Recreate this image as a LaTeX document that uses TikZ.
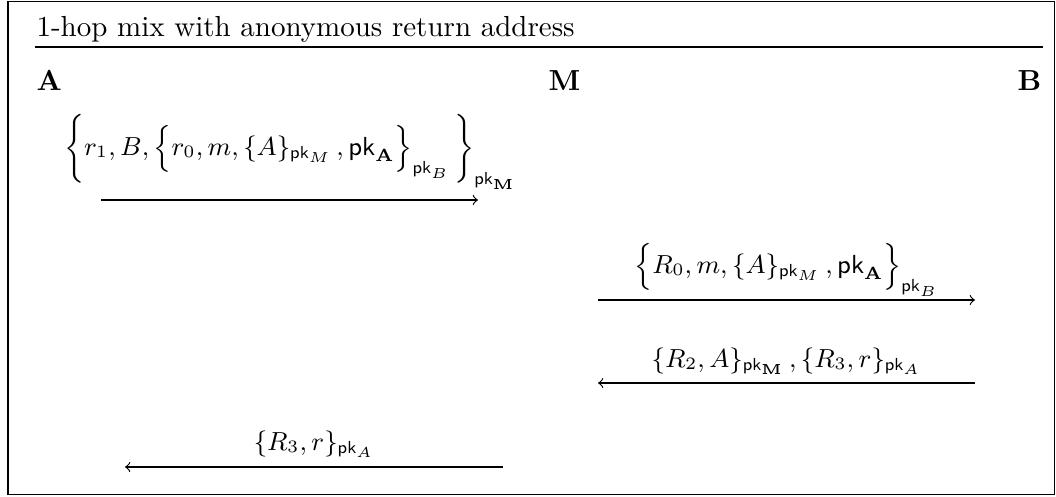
\documentclass[tikz,border=0pt]{standalone}
\usepackage{amsmath}
\usepackage{graphicx}
\newcommand{\tallopen}{\mathopen{\vcenter{\hbox{\scalebox{1}[1.1]{$\biggl\{$}}}}}
\newcommand{\tallclose}{\mathclose{\vcenter{\hbox{\scalebox{1}[1.1]{$\biggr\}$}}}}}
\begin{document}
\begin{tikzpicture}[x=0.34483pt,y=-0.34483pt,
  party/.style={font=\bfseries,inner sep=0pt},
  msg/.style={inner sep=0pt,anchor=base,font=\small},
  line/.style={line width=0.4pt},
  send/.style={line width=0.4pt,->}]
\useasboundingbox (0,0) rectangle (1056,496);
\draw[line] (8,1.5) rectangle (1054.5,494.5);
\node[inner sep=0pt,anchor=base west] (title) at (36,36) {1-hop mix with anonymous return address};
\coordinate (rl) at (35,47);
\coordinate (rr) at (1043,47);
\draw[line] (rl) -- (rr);
\node[party,anchor=base west] (A) at (36,90) {A};
\node[party,anchor=base west] (M) at (548,90) {M};
\node[party,anchor=base east] (B) at (1042,90) {B};
% message 1
\node[msg] (m1) at (290,155) {$\tallopen r_1, B, \Bigl\{r_0, m, \{A\}_{\mathsf{pk}_M}\,, \mathsf{pk}_{\mathbf{A}}\Bigr\}_{\mathsf{pk}_B}\,\tallclose_{\mathsf{pk}_{\mathbf{M}}}$};
\coordinate (m1s) at (101,200);
\coordinate (m1e) at (478,200);
\draw[send] (m1s) -- (m1e);
% message 2
\node[msg] (m2) at (786.5,273) {$\Bigl\{R_0, m, \{A\}_{\mathsf{pk}_M}\,, \mathsf{pk}_{\mathbf{A}}\Bigr\}_{\mathsf{pk}_B}$};
\coordinate (m2s) at (598,300);
\coordinate (m2e) at (975,300);
\draw[send] (m2s) -- (m2e);
% message 3
\node[msg] (m3) at (786.5,367) {$\{R_2, A\}_{\mathsf{pk}_{\mathbf{M}}}\,, \{R_3, r\}_{\mathsf{pk}_A}$};
\coordinate (m3s) at (975,383);
\coordinate (m3e) at (598,383);
\draw[send] (m3s) -- (m3e);
% message 4
\node[msg] (m4) at (314,450) {$\{R_3, r\}_{\mathsf{pk}_A}$};
\coordinate (m4s) at (503,467);
\coordinate (m4e) at (125,467);
\draw[send] (m4s) -- (m4e);
\end{tikzpicture}
\end{document}
